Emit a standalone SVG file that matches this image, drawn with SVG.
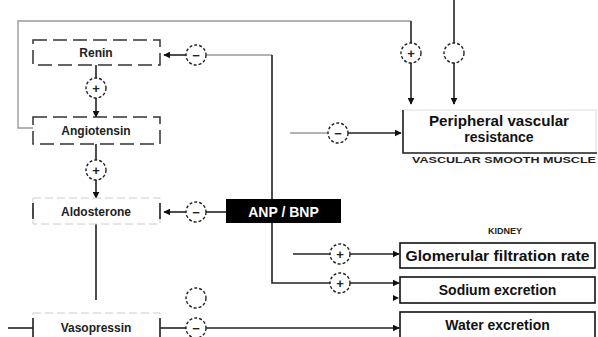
<svg xmlns="http://www.w3.org/2000/svg" width="598" height="337" viewBox="0 0 598 337">
<defs>
<marker id="ah" viewBox="0 0 10 10" refX="9" refY="5" markerWidth="7" markerHeight="7" orient="auto" markerUnits="userSpaceOnUse">
<path d="M0,0 L10,5 L0,10 z" fill="#111"/>
</marker>
<style>
.ln{fill:none;stroke:#222;stroke-width:1.6}
.lg{fill:none;stroke:#9a9a9a;stroke-width:1.4}
.ar{marker-end:url(#ah)}
.cir{fill:#fff;stroke:#222;stroke-width:1.4;stroke-dasharray:3 2}
.sg{font-family:"Liberation Sans",Arial,sans-serif;font-size:13px;font-weight:bold;fill:#222;text-anchor:middle}
.dbox{fill:#fff;stroke:#333;stroke-width:1.5;stroke-dasharray:14 6}
.lbox{fill:#fff;stroke:#ccc;stroke-width:1;stroke-dasharray:8 4}
.sbox{fill:#fff;stroke:#111;stroke-width:1.6}
.t{font-family:"Liberation Sans",Arial,sans-serif;font-size:12px;font-weight:bold;fill:#222;text-anchor:middle}
.tb{font-family:"Liberation Sans",Arial,sans-serif;font-size:14px;font-weight:bold;fill:#111;text-anchor:middle}
.cap{font-family:"Liberation Sans",Arial,sans-serif;font-size:9px;font-weight:bold;fill:#222;text-anchor:middle}
</style>
</defs>
<rect width="598" height="337" fill="#fff"/>

<g id="connectors">
<path class="lg" d="M33,128 H18 V21 H411"/>
<path class="ln ar" d="M411,21 V104"/>
<path class="ln ar" d="M454,0 V104" stroke="#555"/>
<path class="lg" d="M206,55 H272"/>
<path class="ln ar" d="M186,55 H164"/>
<path class="ln" d="M272,55 V199"/>
<path class="ln" d="M96,65 V78"/>
<path class="ln ar" d="M96,98 V117"/>
<path class="ln" d="M96,144 V160"/>
<path class="ln ar" d="M96,180 V198"/>
<path class="ln" d="M226,212 H206"/>
<path class="ln ar" d="M186,212 H164"/>
<path class="ln" d="M96,224 V300" stroke="#666"/>
<path class="ln" d="M8,328 H33"/>
<path class="ln" d="M160,328 H186"/>
<path class="ln ar" d="M206,328 H399"/>
<path class="lg" d="M290,133 H328"/>
<path class="ln ar" d="M348,133 H401"/>
<path class="ln" d="M293,254 H330"/>
<path class="ln ar" d="M350,254 H399"/>
<path class="ln" d="M272,223 V283 H330"/>
<path class="ln ar" d="M350,283 H399"/>
<path d="M393,295 L399,298 L393,301 z" fill="#111"/>
</g>

<g id="signs">
<circle class="cir" cx="196" cy="55" r="10"/><text class="sg" x="196" y="59.5">−</text>
<circle class="cir" cx="96" cy="88" r="10"/><text class="sg" x="96" y="92.5">+</text>
<circle class="cir" cx="96" cy="170" r="10"/><text class="sg" x="96" y="174.5">+</text>
<circle class="cir" cx="196" cy="212" r="10"/><text class="sg" x="196" y="216.5">−</text>
<circle class="cir" cx="411" cy="53" r="10"/><text class="sg" x="411" y="57.5">+</text>
<circle class="cir" cx="454" cy="53" r="10"/>
<circle class="cir" cx="338" cy="133" r="10"/><text class="sg" x="338" y="137.5">−</text>
<circle class="cir" cx="340" cy="254" r="10"/><text class="sg" x="340" y="258.5">+</text>
<circle class="cir" cx="340" cy="283" r="10"/><text class="sg" x="340" y="287.5">+</text>
<circle class="cir" cx="196" cy="298" r="10"/>
<circle class="cir" cx="196" cy="328" r="10"/><text class="sg" x="196" y="332.5">−</text>
</g>

<g id="renin">
<rect class="dbox" x="33" y="40" width="127" height="25"/>
<text class="t" x="96" y="57">Renin</text>
</g>
<g id="angiotensin">
<rect class="dbox" x="33" y="117" width="127" height="27"/>
<text class="t" x="96" y="135">Angiotensin</text>
</g>
<g id="aldosterone">
<rect class="lbox" x="33" y="198" width="127" height="26"/>
<path class="ln" d="M33,203 V219 M160,203 V219" stroke="#222"/>
<text class="t" x="96" y="216">Aldosterone</text>
</g>
<g id="vasopressin">
<rect class="lbox" x="33" y="313" width="127" height="30"/>
<path class="ln" d="M33,318 V337 M160,318 V337" stroke="#222"/>
<text class="t" x="96" y="332">Vasopressin</text>
</g>
<g id="anp">
<rect x="226" y="199" width="115" height="24" fill="#000"/>
<text class="tb" x="283.5" y="216.5" style="fill:#fff">ANP / BNP</text>
</g>
<g id="pvr">
<rect x="403" y="110" width="193" height="43" fill="#fff" stroke="#ddd" stroke-width="1"/>
<path class="ln" d="M403,110 V153 H597"/>
<text class="tb" x="499" y="126" textLength="140" lengthAdjust="spacingAndGlyphs">Peripheral vascular</text>
<text class="tb" x="499" y="142">resistance</text>
<text class="cap" x="504" y="163" textLength="184" lengthAdjust="spacingAndGlyphs">VASCULAR SMOOTH MUSCLE</text>
</g>
<g id="kidney-label">
<text class="cap" x="505" y="234">KIDNEY</text>
</g>
<g id="gfr">
<rect class="sbox" x="400" y="243" width="195" height="25"/>
<text class="tb" x="497.5" y="260.5" textLength="184" lengthAdjust="spacingAndGlyphs">Glomerular filtration rate</text>
</g>
<g id="sodium">
<rect class="sbox" x="400" y="277" width="195" height="26"/>
<text class="tb" x="497.5" y="295">Sodium excretion</text>
</g>
<g id="water">
<rect class="sbox" x="400" y="312" width="195" height="32"/>
<text class="tb" x="497.5" y="330">Water excretion</text>
</g>
</svg>
